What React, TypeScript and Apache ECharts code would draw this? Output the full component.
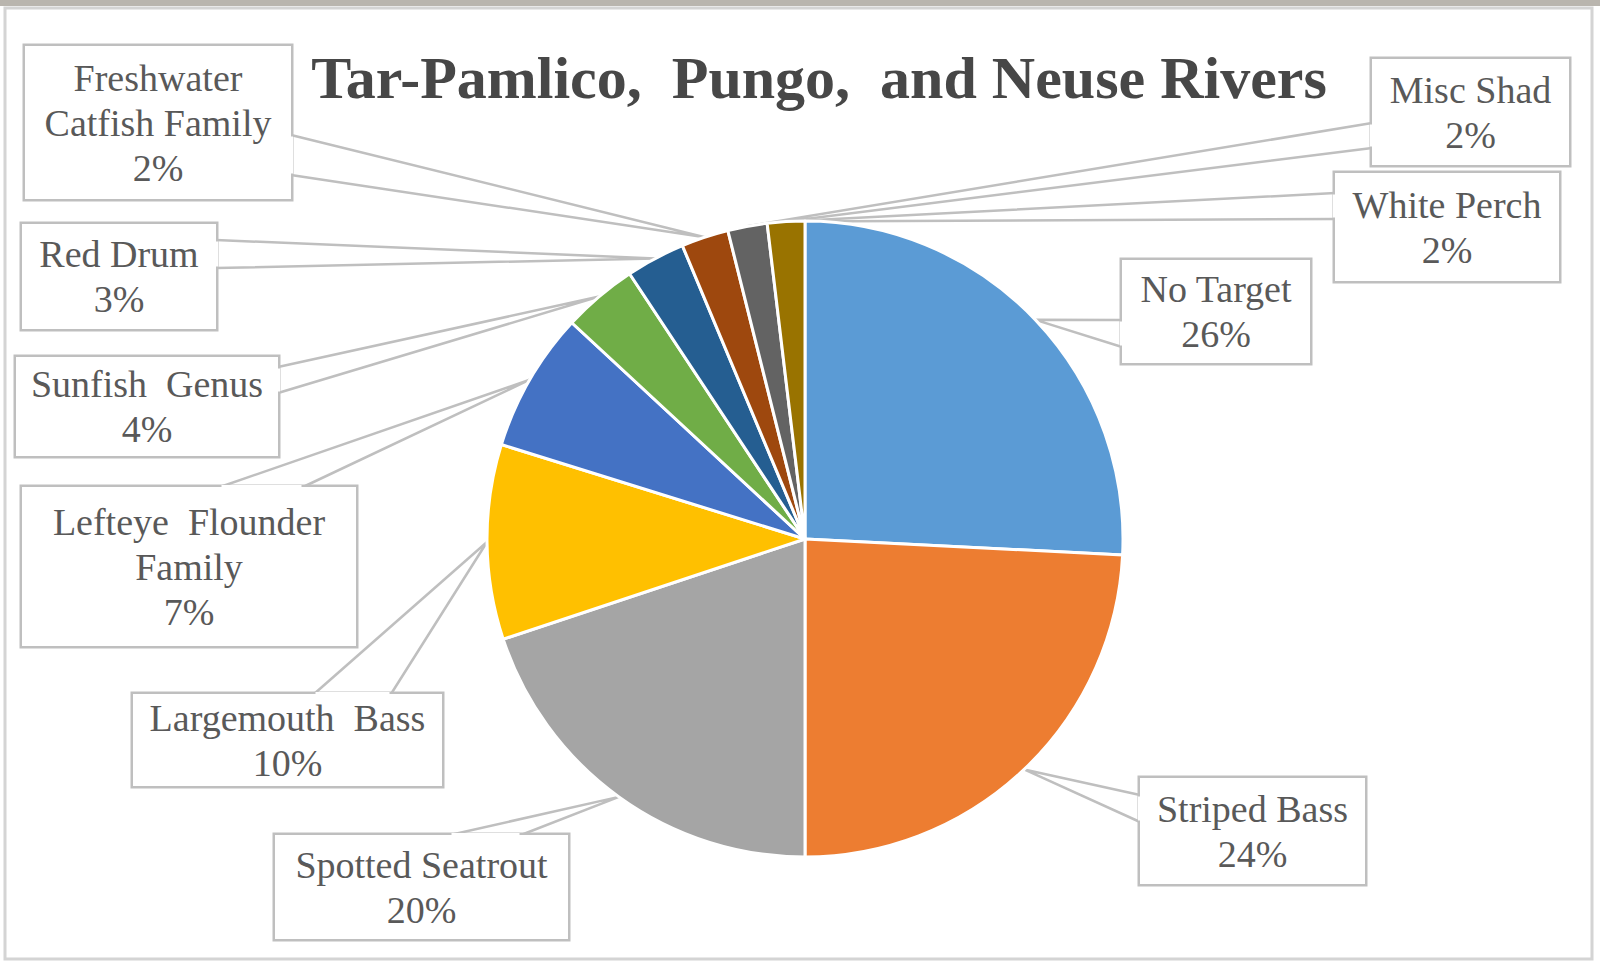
import React, { useEffect, useRef } from 'react';
import * as echarts from 'echarts';

// ---------- data ----------
const title = 'Tar-Pamlico,  Pungo,  and Neuse Rivers';
const categories = [
  'No Target',
  'Striped Bass',
  'Spotted Seatrout',
  'Largemouth Bass',
  'Lefteye Flounder Family',
  'Sunfish Genus',
  'Red Drum',
  'Freshwater Catfish Family',
  'Misc Shad',
  'White Perch',
];
const labelNames = [
  'No Target',
  'Striped Bass',
  'Spotted Seatrout',
  'Largemouth  Bass',
  'Lefteye  Flounder\nFamily',
  'Sunfish  Genus',
  'Red Drum',
  'Freshwater\nCatfish Family',
  'Misc Shad',
  'White Perch',
];
const values = [25.8, 24.2, 19.9, 9.9, 7.1, 3.8, 3.0, 2.4, 2.0, 1.9];
const colors = ['#5B9BD5', '#ED7D31', '#A5A5A5', '#FFC000', '#4472C4', '#70AD47', '#255E91', '#9E480E', '#636363', '#997300'];

// ---------- layout (styles) ----------
// callout boxes [x0, y0, x1, y1]
const calloutBoxes = [
  [1122, 260, 1310, 363],
  [1140, 778, 1365, 884],
  [275, 835, 568, 939],
  [133, 694, 442, 786],
  [22, 487, 356, 646],
  [16, 357, 278, 456],
  [22, 224, 216, 329],
  [25, 46, 291, 199],
  [1372, 59, 1569, 165],
  [1335, 173, 1559, 281],
];
// wedge base points on the box edge
const calloutBases = [
  [[1122, 320], [1122, 347]],
  [[1140, 795], [1140, 822]],
  [[450, 835], [521, 835]],
  [[314, 694], [391, 694]],
  [[220, 487], [303, 487]],
  [[278, 367], [278, 393]],
  [[216, 240], [216, 268]],
  [[291, 135], [291, 175]],
  [[1372, 123], [1372, 148]],
  [[1335, 193], [1335, 219]],
];
const PIE_CENTER = [805, 539];
const PIE_RADIUS = 318;
const SERIF = '"Liberation Serif", "Times New Roman", serif';
const LINE_H = 45;
const GUIDE = '#bfbfbf';

export default function App() {
  const ref = useRef<HTMLDivElement>(null);
  useEffect(() => {
    if (!ref.current) return;
    const chart = echarts.init(ref.current, null, { renderer: 'svg' });
    const total = values.reduce((a, b) => a + b, 0);
    const data = values.map((v, i) => {
      const [x0, y0, x1, y1] = calloutBoxes[i];
      const lines = labelNames[i].split('\n').length + 1;
      const padY = Math.max(0, (y1 - y0 - lines * LINE_H) / 2);
      return {
        name: categories[i],
        value: v,
        itemStyle: { color: colors[i] },
        label: { width: x1 - x0, padding: [padY, 0, padY, 0] },
      };
    });
    const tipFor = (idx: number) => {
      let cum = 0;
      for (let k = 0; k < idx; k++) cum += values[k];
      const mid = ((cum + values[idx] / 2) / total) * Math.PI * 2;
      return [PIE_CENTER[0] + PIE_RADIUS * Math.sin(mid), PIE_CENTER[1] - PIE_RADIUS * Math.cos(mid)];
    };
    // white covers that open the callout box at the wedge base
    const baseCovers = calloutBases.map(([a, b]) => ({
      type: 'line',
      z: 100,
      silent: true,
      shape: {
        x1: a[0] + (a[0] === b[0] ? 0 : 1.5),
        y1: a[1] + (a[1] === b[1] ? 0 : 1.5),
        x2: b[0] - (a[0] === b[0] ? 0 : 1.5),
        y2: b[1] - (a[1] === b[1] ? 0 : 1.5),
      },
      style: { stroke: '#ffffff', lineWidth: 4 },
    }));
    chart.setOption({
      animation: false,
      backgroundColor: '#ffffff',
      graphic: [
        {
          type: 'rect',
          shape: { x: 0, y: 0, width: 1600, height: 6 },
          style: { fill: '#b9b5ae' },
          silent: true,
        },
        {
          type: 'rect',
          shape: { x: 5, y: 8, width: 1587, height: 951 },
          style: { fill: 'none', stroke: '#d4d4d4', lineWidth: 3 },
          silent: true,
        },
        {
          type: 'text',
          x: 819,
          y: 78,
          style: {
            text: title,
            fontFamily: SERIF,
            fontSize: 60,
            fontWeight: 'bold',
            fill: '#474747',
            align: 'center',
            verticalAlign: 'middle',
            textAlign: 'center',
            textVerticalAlign: 'middle',
          },
        },
        ...baseCovers,
      ],
      series: [
        {
          type: 'pie',
          center: PIE_CENTER,
          radius: PIE_RADIUS,
          startAngle: 90,
          clockwise: true,
          avoidLabelOverlap: false,
          itemStyle: { borderColor: '#ffffff', borderWidth: 3 },
          label: {
            show: true,
            position: 'outside',
            formatter: (p: any) => `${labelNames[p.dataIndex]}\n${Math.round(p.percent)}%`,
            fontFamily: SERIF,
            fontSize: 38,
            lineHeight: LINE_H,
            color: '#595959',
            backgroundColor: '#ffffff',
            borderColor: GUIDE,
            borderWidth: 2.5,
            align: 'center',
            overflow: 'none',
          },
          labelLine: {
            show: true,
            length: 10,
            length2: 10,
            lineStyle: { color: GUIDE, width: 2.5 },
          },
          labelLayout: (params: any) => {
            const i = params.dataIndex;
            const [x0, y0, x1, y1] = calloutBoxes[i];
            const pts = params.labelLinePoints;
            const tip = pts && pts[0] ? pts[0] : tipFor(i);
            const [a, b] = calloutBases[i];
            return {
              x: (x0 + x1) / 2,
              y: (y0 + y1) / 2,
              align: 'center',
              verticalAlign: 'middle',
              labelLinePoints: [a, tip, b],
            };
          },
          data,
        },
      ],
    });
    return () => chart.dispose();
  }, []);
  return (
    <div
      ref={ref}
      style={{ position: 'fixed', left: 0, top: 0, width: 1600, height: 962 }}
    />
  );
}
